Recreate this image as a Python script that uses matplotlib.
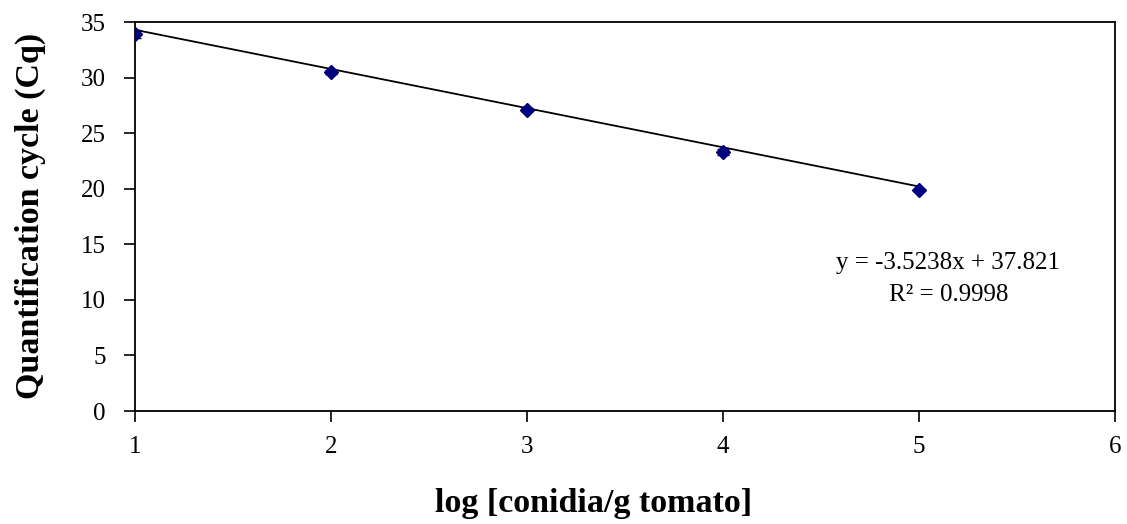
import matplotlib.pyplot as plt
import numpy as np

plt.rcParams['font.family'] = ['Liberation Serif', 'DejaVu Serif']

log_conc = [1, 2, 3, 4, 5]
cq = [33.9, 30.5, 27.1, 23.3, 19.9]
cq_err = [0.35, 0.15, 0.15, 0.25, 0.1]
slope = -3.5238
intercept = 37.821
r2 = 0.9998

fig = plt.figure(figsize=(11.27, 5.24), dpi=100)
ax = fig.add_axes([0.1198, 0.2156, 0.8695, 0.7424])

xfit = np.array([log_conc[0], log_conc[-1]])
ax.plot(xfit, slope * xfit + intercept, color='black', lw=1.3, zorder=2)
ax.errorbar(log_conc, cq, yerr=cq_err, fmt='D', color='#000080', ms=7,
            ecolor='black', elinewidth=1, capsize=4, zorder=3)

ax.text(5.15, 13.3, f"y = {slope}x + {intercept}", ha='center', va='center', fontsize=18)
ax.text(5.15, 10.4, f"R² = {r2}", ha='center', va='center', fontsize=18)

ax.set_xlim(1, 6)
ax.set_ylim(0, 35)
ax.set_xticks(range(1, 7))
ax.set_yticks(range(0, 36, 5))
ax.tick_params(direction='out', length=8, width=1.2, labelsize=18)
ax.tick_params(axis='x', pad=10)
ax.tick_params(axis='y', pad=13)
for s in ax.spines.values():
    s.set_linewidth(1.3)

fig.text(0.527, 0.04, 'log [conidia/g tomato]', ha='center', va='center',
         fontsize=24.5, fontweight='bold')
fig.text(0.0266, 0.588, 'Quantification cycle (Cq)', ha='center', va='center',
         rotation=90, fontsize=24.5, fontweight='bold')

fig.savefig('out.png', dpi=100)
